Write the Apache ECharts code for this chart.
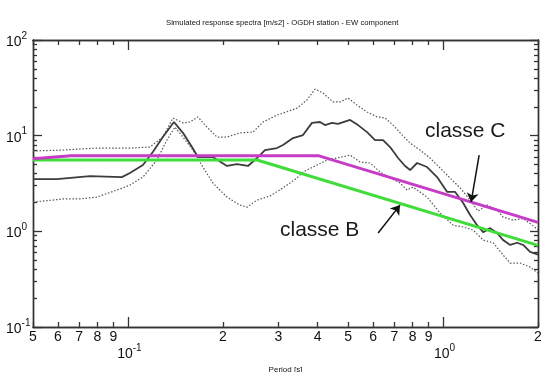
<!DOCTYPE html>
<html>
<head>
<meta charset="utf-8">
<title>Spettri di risposta OGDH</title>
<script src="https://cdn.jsdelivr.net/npm/echarts@6/dist/echarts.min.js"></script>
<style>
  html, body { margin: 0; padding: 0; background: #fff; }
  #chart { width: 541px; height: 372px; }
</style>
</head>
<body>
<div id="chart"></div>
<script>
// media (linea continua)
var periodMean = [0.05, 0.0595, 0.0758, 0.0957, 0.1015, 0.1116, 0.120, 0.1291, 0.140, 0.1495, 0.1597, 0.1668, 0.186, 0.2062, 0.2218, 0.2404, 0.2568, 0.2722, 0.2972, 0.3105, 0.3341, 0.3594, 0.3837, 0.407, 0.422, 0.444, 0.4642, 0.5068, 0.5372, 0.5737, 0.6083, 0.6449, 0.6789, 0.7197, 0.7575, 0.7858, 0.827, 0.8896, 0.957, 1.03, 1.092, 1.158, 1.218, 1.282, 1.34, 1.41, 1.484, 1.55, 1.632, 1.718, 1.795, 1.888, 2.0];
var accMean = [3.52, 3.52, 3.78, 3.69, 4.07, 4.93, 6.74, 9.67, 13.9, 10.7, 7.6, 5.98, 5.98, 4.82, 5.05, 4.82, 5.84, 7.07, 7.42, 7.98, 9.44, 10.15, 13.6, 13.9, 12.9, 13.6, 13.25, 14.6, 12.9, 10.9, 9.0, 9.0, 7.6, 5.84, 4.82, 4.37, 5.18, 4.70, 3.69, 2.58, 2.58, 1.98, 1.48, 1.16, 0.98, 1.08, 0.96, 0.81, 0.72, 0.76, 0.72, 0.61, 0.57];

// media + sigma (puntinata sopra)
var periodUpper = [0.05, 0.0622, 0.0797, 0.1015, 0.1174, 0.1291, 0.139, 0.1495, 0.1573, 0.1668, 0.1781, 0.1917, 0.2062, 0.2268, 0.2494, 0.2683, 0.2972, 0.3105, 0.344, 0.370, 0.3925, 0.4159, 0.4475, 0.471, 0.4994, 0.533, 0.5737, 0.6173, 0.6547, 0.694, 0.7464, 0.7858, 0.8453, 0.9093, 0.9783, 1.052, 1.133, 1.218, 1.291, 1.38, 1.484, 1.55, 1.667, 1.795, 1.917, 2.0];
var accUpper = [6.91, 7.07, 7.42, 7.42, 7.6, 9.67, 15.3, 13.6, 13.9, 15.7, 12.3, 9.67, 9.67, 10.7, 10.9, 13.9, 16.4, 17.2, 19.4, 23.6, 30.7, 27.9, 22.5, 22.5, 24.7, 20.9, 17.7, 15.7, 15.3, 12.9, 9.91, 8.37, 7.07, 5.84, 4.59, 3.61, 2.84, 2.12, 1.63, 1.88, 1.67, 1.41, 1.31, 1.36, 1.16, 1.03];

// media - sigma (puntinata sotto)
var periodLower = [0.05, 0.0622, 0.0704, 0.0797, 0.0964, 0.1015, 0.1116, 0.1236, 0.133, 0.141, 0.1495, 0.1609, 0.173, 0.186, 0.2062, 0.2268, 0.2387, 0.2568, 0.2823, 0.3105, 0.344, 0.3594, 0.398, 0.428, 0.4608, 0.5068, 0.5451, 0.5866, 0.631, 0.6789, 0.7302, 0.7687, 0.8032, 0.8896, 0.9783, 1.076, 1.158, 1.245, 1.34, 1.441, 1.55, 1.632, 1.754, 1.888, 2.0];
var accLower = [2.02, 2.18, 2.18, 2.28, 2.84, 3.05, 3.69, 5.56, 9.0, 12.3, 9.67, 7.07, 4.70, 3.2, 2.28, 1.88, 1.79, 2.12, 2.34, 2.84, 3.61, 4.17, 4.93, 5.56, 5.84, 6.27, 5.3, 5.18, 4.17, 3.61, 3.2, 2.70, 2.90, 2.28, 1.55, 1.16, 1.11, 1.03, 0.81, 0.76, 0.565, 0.466, 0.466, 0.423, 0.366];

// spettri di normativa
var periodClassB = [0.05, 0.257, 2.0];
var accClassB = [5.56, 5.56, 0.714];
var periodClassC = [0.05, 0.066, 0.404, 2.0];
var accClassC = [5.75, 6.15, 6.15, 1.24];

// frecce delle etichette [periodo, acc]
var arrowC = [[1.301, 6.27], [1.227, 2.02]];
var arrowB = [[0.622, 0.96], [0.730, 1.88]];

// tacche
var xMinorTicks = [0.05, 0.06, 0.07, 0.08, 0.09, 0.2, 0.3, 0.4, 0.5, 0.6, 0.7, 0.8, 0.9, 2];
var xMajorTicks = [0.1, 1];
var yMinorTicks = [0.2, 0.3, 0.4, 0.5, 0.6, 0.7, 0.8, 0.9, 2, 3, 4, 5, 6, 7, 8, 9, 20, 30, 40, 50, 60, 70, 80, 90];
var yMajorTicks = [0.1, 1, 10, 100];

function zip(xs, ys) {
    return xs.map(function (x, i) { return [x, ys[i]]; });
}

var FONT = '"Liberation Sans Narrow", "Liberation Sans", sans-serif';
var INK = '#333';

var supRich = {
    b: { fontSize: 14, fontFamily: FONT, color: '#111', lineHeight: 18, verticalAlign: 'bottom' },
    s: { fontSize: 10, fontFamily: FONT, color: '#111', lineHeight: 18, verticalAlign: 'top' }
};

function powLabel(v) {
    var e = Math.round(Math.log10(v));
    return '{b|10}{s|' + e + '}';
}

function digitLabel(v) {
    var p = Math.pow(10, Math.floor(Math.log10(v) + 1e-9));
    return String(Math.round(v / p));
}

function xAxisDef(pos, ticks, len, labels) {
    return {
        type: 'log',
        logBase: 10,
        position: pos,
        min: 0.05,
        max: 2,
        axisLine: { show: true, onZero: false, lineStyle: { color: INK, width: 1.4 } },
        axisTick: { show: true, inside: true, length: len, customValues: ticks, lineStyle: { color: INK, width: 1.3 } },
        axisLabel: labels || { show: false },
        splitLine: { show: false },
        minorTick: { show: false }
    };
}

function yAxisDef(pos, ticks, len, labels) {
    return {
        type: 'log',
        logBase: 10,
        position: pos,
        min: 0.1,
        max: 100,
        axisLine: { show: true, onZero: false, lineStyle: { color: INK, width: 1.4 } },
        axisTick: { show: true, inside: true, length: len, customValues: ticks, lineStyle: { color: INK, width: 1.3 } },
        axisLabel: labels || { show: false },
        splitLine: { show: false },
        minorTick: { show: false }
    };
}

var chart = echarts.init(document.getElementById('chart'));

var xBottomMinor = xAxisDef('bottom', xMinorTicks, 5, {
    show: true,
    customValues: xMinorTicks,
    margin: 3,
    fontSize: 14,
    fontFamily: FONT,
    color: '#111',
    formatter: digitLabel
});
var xBottomMajor = xAxisDef('bottom', xMajorTicks, 10, {
    show: true,
    customValues: xMajorTicks,
    margin: 16,
    padding: [0, 0, 0, 3],
    rich: supRich,
    formatter: powLabel
});
xBottomMajor.name = 'Period [s]';
xBottomMajor.nameLocation = 'middle';
xBottomMajor.nameGap = 38;
xBottomMajor.nameTextStyle = { fontSize: 8, fontFamily: FONT, color: '#111' };

var yLeftMajor = yAxisDef('left', yMajorTicks, 9, {
    show: true,
    customValues: yMajorTicks,
    margin: 27,
    align: 'left',
    rich: supRich,
    formatter: powLabel
});

var option = {
    animation: false,
    backgroundColor: '#fff',
    title: {
        text: 'Simulated response spectra [m/s2] - OGDH station - EW component',
        left: 161,
        top: 14,
        textStyle: { fontSize: 7.7, fontWeight: 'normal', fontFamily: FONT, color: '#111' }
    },
    grid: { left: 33, right: 3, top: 40, bottom: 45, outerBoundsMode: 'none' },
    xAxis: [
        xBottomMinor,
        xBottomMajor,
        xAxisDef('top', xMinorTicks, 5),
        xAxisDef('top', xMajorTicks, 10)
    ],
    yAxis: [
        yLeftMajor,
        yAxisDef('left', yMinorTicks, 4),
        yAxisDef('right', yMajorTicks, 8),
        yAxisDef('right', yMinorTicks, 4)
    ],
    graphic: [
        {
            type: 'text', left: 425, top: 121,
            style: { text: 'classe C', fontSize: 21, fontFamily: '"Liberation Sans", Arial, sans-serif', fill: '#1a1a1a' }
        },
        {
            type: 'text', left: 280, top: 220,
            style: { text: 'classe B', fontSize: 21, fontFamily: '"Liberation Sans", Arial, sans-serif', fill: '#1a1a1a' }
        }
    ],
    series: [
        {
            name: 'mean+sigma', type: 'line', data: zip(periodUpper, accUpper),
            showSymbol: false, symbol: 'none',
            lineStyle: { color: '#555', width: 1.2, type: [1.5, 1.8] }
        },
        {
            name: 'mean-sigma', type: 'line', data: zip(periodLower, accLower),
            showSymbol: false, symbol: 'none',
            lineStyle: { color: '#555', width: 1.2, type: [1.5, 1.8] }
        },
        {
            name: 'mean', type: 'line', data: zip(periodMean, accMean),
            showSymbol: false, symbol: 'none',
            lineStyle: { color: '#3c3c3c', width: 1.8 }
        },
        {
            name: 'classe B', type: 'line', data: zip(periodClassB, accClassB),
            showSymbol: false, symbol: 'none',
            lineStyle: { color: '#3fdc3a', width: 3 },
            markLine: {
                silent: true,
                symbol: ['none', 'arrow'],
                symbolSize: 9,
                label: { show: false },
                lineStyle: { color: '#111', width: 1.5, type: 'solid' },
                data: [[{ coord: arrowB[0] }, { coord: arrowB[1] }]]
            }
        },
        {
            name: 'classe C', type: 'line', data: zip(periodClassC, accClassC),
            showSymbol: false, symbol: 'none',
            lineStyle: { color: '#c63cc6', width: 3 },
            markLine: {
                silent: true,
                symbol: ['none', 'arrow'],
                symbolSize: 9,
                label: { show: false },
                lineStyle: { color: '#111', width: 1.5, type: 'solid' },
                data: [[{ coord: arrowC[0] }, { coord: arrowC[1] }]]
            }
        }
    ]
};

chart.setOption(option);
</script>
</body>
</html>
